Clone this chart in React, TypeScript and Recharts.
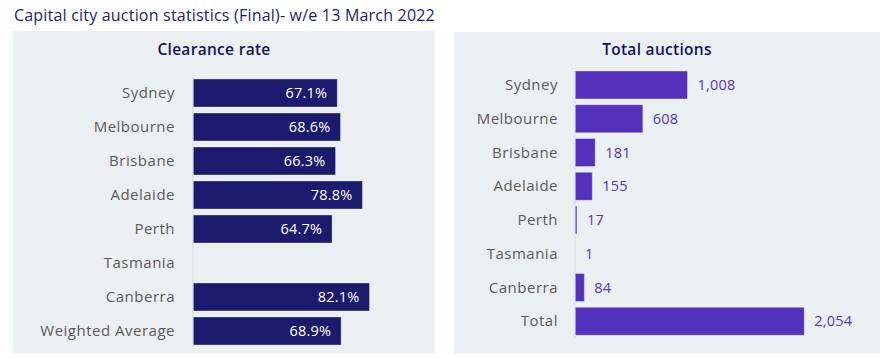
import { BarChart, Bar, XAxis, YAxis, LabelList } from 'recharts';

const cities = ['Sydney', 'Melbourne', 'Brisbane', 'Adelaide', 'Perth', 'Tasmania', 'Canberra'];
const clearanceRates: (number | null)[] = [67.1, 68.6, 66.3, 78.8, 64.7, null, 82.1, 68.9];
const totalAuctions = [1008, 608, 181, 155, 17, 1, 84, 2054];

const clearanceData = [...cities, 'Weighted Average'].map((name, i) => ({
  name,
  value: clearanceRates[i],
}));
const auctionData = [...cities, 'Total'].map((name, i) => ({
  name,
  value: totalAuctions[i],
}));

const FONT = '"Open Sans", "Noto Sans", sans-serif';
const NAVY = '#1b1a6c';
const PURPLE = '#5331bd';
const PANEL = '#ebf0f3';

const tickStyle = { fontSize: 15, fill: '#5b5b5b', fontFamily: FONT, letterSpacing: 0.5 };

export default function App() {
  return (
    <div
      style={{
        position: 'absolute',
        left: 0,
        top: 0,
        width: 880,
        height: 359,
        background: '#ffffff',
        fontFamily: FONT,
      }}
    >
      <div
        style={{
          position: 'absolute',
          left: 14,
          top: 4,
          fontSize: 16,
          letterSpacing: 0.2,
          color: '#1f1d6e',
          whiteSpace: 'nowrap',
        }}
      >
        Capital city auction statistics (Final)- w/e 13 March 2022
      </div>

      {/* clearance rate panel */}
      <div style={{ position: 'absolute', left: 13, top: 31, width: 422, height: 322, background: PANEL }}>
        <div
          style={{
            position: 'absolute',
            left: 0,
            width: 402,
            top: 7,
            textAlign: 'center',
            fontSize: 15.5,
            letterSpacing: 0.3,
            fontWeight: 600,
            color: '#16145e',
          }}
        >
          Clearance rate
        </div>
        <BarChart
          width={422}
          height={322}
          data={clearanceData}
          layout="vertical"
          margin={{ top: 45, right: 27, bottom: 5, left: 0 }}
        >
          <XAxis type="number" domain={[0, 100]} hide />
          <YAxis
            type="category"
            dataKey="name"
            width={180}
            tickLine={false}
            tickMargin={12}
            axisLine={{ stroke: '#d6dadd' }}
            tick={tickStyle}
            interval={0}
          />
          <Bar
            dataKey="value"
            fill={NAVY}
            stroke="#ffffff"
            strokeOpacity={0.35}
            barSize={28}
            isAnimationActive={false}
          >
            <LabelList
              dataKey="value"
              position="insideRight"
              offset={10}
              formatter={(v: any) => (v == null ? '' : `${Number(v).toFixed(1)}%`)}
              style={{ fill: '#ffffff', fontSize: 14.5, fontFamily: FONT, letterSpacing: 0.2 }}
            />
          </Bar>
        </BarChart>
      </div>

      {/* total auctions panel */}
      <div style={{ position: 'absolute', left: 454, top: 32, width: 426, height: 321, background: PANEL }}>
        <div
          style={{
            position: 'absolute',
            left: 0,
            width: 406,
            top: 6,
            textAlign: 'center',
            fontSize: 15.5,
            letterSpacing: 0.3,
            fontWeight: 600,
            color: '#16145e',
          }}
        >
          Total auctions
        </div>
        <BarChart
          width={426}
          height={321}
          data={auctionData}
          layout="vertical"
          margin={{ top: 36, right: 26, bottom: 15, left: 0 }}
        >
          <XAxis type="number" domain={[0, 2500]} hide />
          <YAxis
            type="category"
            dataKey="name"
            width={121}
            tickLine={false}
            tickMargin={11}
            axisLine={{ stroke: '#d6dadd' }}
            tick={tickStyle}
            interval={0}
          />
          <Bar
            dataKey="value"
            fill={PURPLE}
            stroke="#ffffff"
            strokeOpacity={0.35}
            barSize={28}
            isAnimationActive={false}
          >
            <LabelList
              dataKey="value"
              position="right"
              offset={10}
              formatter={(v: any) => Number(v).toLocaleString('en-US')}
              style={{ fill: '#5a33c2', fontSize: 14.5, fontFamily: FONT, letterSpacing: 0.2 }}
            />
          </Bar>
        </BarChart>
      </div>
    </div>
  );
}
